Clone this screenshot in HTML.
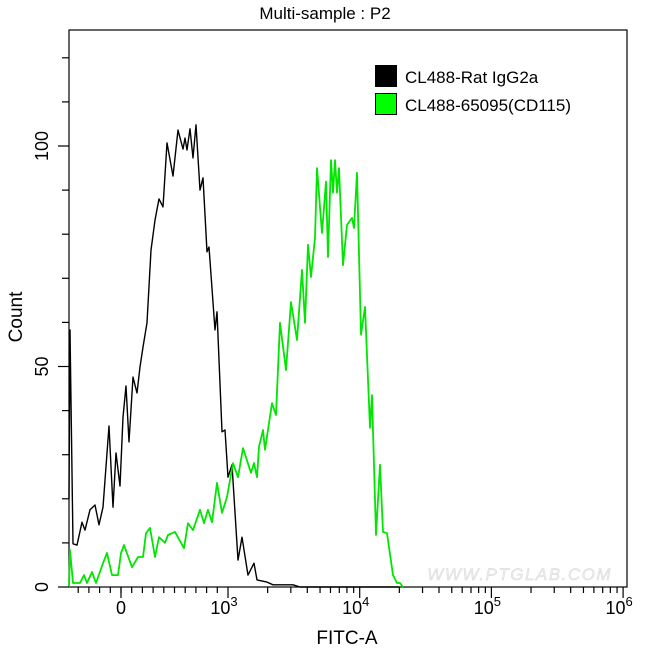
<!DOCTYPE html>
<html><head><meta charset="utf-8"><style>
body{margin:0;background:#fff}
svg{display:block;font-family:"Liberation Sans",Arial,sans-serif}
</style></head><body>
<svg id="chart" width="650" height="652" viewBox="0 0 650 652">
<text x="325" y="19" text-anchor="middle" font-size="17">Multi-sample : P2</text>
<rect x="69" y="30" width="558" height="557" fill="none" stroke="#000" stroke-width="1.2"/>
<text x="612" y="580" text-anchor="end" font-size="17" font-style="italic" letter-spacing="1.5" fill="#ececec" stroke="#d6d6d6" stroke-width="0.4">WWW.PTGLAB.COM</text>
<g id="marks"></g>
<g id="axes"></g>
<text x="347" y="644" text-anchor="middle" font-size="19">FITC-A</text>
<text transform="translate(22,317) rotate(-90)" text-anchor="middle" font-size="19">Count</text>
<g>
<rect x="375" y="65" width="22" height="22" fill="#000"/>
<text x="405" y="83" font-size="17">CL488-Rat IgG2a</text>
<rect x="375.5" y="93.5" width="21" height="21" fill="#00ff00" stroke="#000"/>
<text x="405" y="111" font-size="17">CL488-65095(CD115)</text>
</g>
</svg>
<script>
// channel (display bins, 0..558) vs count
const isoChannels=[0,1,4,8,13,16,21,26,30,34,40,44,47,51,54,57,60,64,68,71,74,78,82,86,90,94,98,104,109,114,116,118,121,124,127,131,134,138,140,146,148,153,156,159,163,169,173,179,185,188,198,204,224,231,330];
const isoCounts=[20,58.3,9.8,9.5,14.7,12.9,17.5,18.6,14.1,18.1,36.5,18.1,30.4,22.9,38.5,45.6,32.9,47.6,44,49.9,54.4,59.9,76.4,83.2,88,86.2,100.7,93.2,103.6,99.3,101.8,99.1,103.9,97.3,104.8,90,92.8,76,77.1,58.3,62.4,35.2,35.6,24.9,27.7,6.1,11.3,2.7,5.4,1.6,1.1,0.5,0.5,0,0];
const cdChannels=[0,1,4,11,15,18,23,27,34,38,43,49,52,55,63,69,74,77,81,86,90,96,99,106,115,119,124,131,135,139,143,148,153,158,164,169,174,182,185,188,190,194,196,203,207,211,217,222,228,233,236,239,242,246,248,253,257,259,262,264,266,268,270,274,278,283,285,288,292,296,301,303,307,311,314,318,324,328,331,334];
const cdCounts=[0,8.4,0.9,0.9,2.7,0.9,3.4,0.9,5.4,7.7,2.7,2.7,7.7,9.5,4.5,6.8,6.8,12.2,13.4,6.8,11.3,10,11.8,12.5,8.8,14.5,12.9,17.5,14.5,17.5,14.7,23.6,16.8,20.4,28.1,24.9,31.5,25.9,28.1,24.9,31.8,35.6,31.1,41.7,39,59.9,49.2,64.6,56,71.9,59.9,77.6,70.3,79.2,95,80.3,91.9,74.8,96.8,89.4,96.8,89.4,95,73,82.1,83.7,81.4,93.9,57.2,63.5,36.1,43.5,11.8,27.7,12.5,12.2,2.7,0.9,0.9,0];
const xTickValues=[0,1000,10000,100000,1000000];
const xTickLabels=["0","10","10","10","10"];
const xTickExp=["","3","4","5","6"];
const yTickValues=[0,50,100];
const yTickLabels=["0","50","100"];
const yMinorValues=[10,20,30,40,60,70,80,90,110,120];

const L=69,T=30,R=627,B=587,YMAX=(B-T)/4.41;
function xCh(c){return L+c;}
function yC(v){return B-v*(B-T)/YMAX;}
function chOf(v){
  if(v<=1000) return 52+v/1000*107;
  return 159+(Math.log10(v)-3)*131.7;
}
const NS="http://www.w3.org/2000/svg";
const marks=document.getElementById('marks'), axes=document.getElementById('axes');
function line(chs,cnts,color,w,name){
  const p=document.createElementNS(NS,'polyline');
  p.setAttribute('points',chs.map((c,i)=>xCh(c).toFixed(1)+','+yC(cnts[i]).toFixed(1)).join(' '));
  p.setAttribute('fill','none');p.setAttribute('stroke',color);p.setAttribute('stroke-width',w);
  p.setAttribute('stroke-linejoin','round');
  
  
  marks.appendChild(p);
}
line(isoChannels,isoCounts,'#000','1.4','isotype-histogram');
line(cdChannels,cdCounts,'#00e600','1.8','cd115-histogram');

function tick(x1,y1,x2,y2,name){
  const t=document.createElementNS(NS,'line');
  t.setAttribute('x1',x1);t.setAttribute('y1',y1);t.setAttribute('x2',x2);t.setAttribute('y2',y2);
  t.setAttribute('stroke','#000');t.setAttribute('stroke-width','1.2');
  
  
  axes.appendChild(t);
}
const minor=[];
for(let v=-400;v<1000;v+=100) minor.push(v);
for(let d=3;d<6;d++) for(let k=2;k<10;k++) minor.push(k*Math.pow(10,d));
minor.forEach(v=>{const x=xCh(chOf(v)); if(x>=L&&x<=R) tick(x,B,x,B+6,'x-minor-tick');});
xTickValues.forEach((v,i)=>{
  const x=xCh(chOf(v));
  tick(x,B,x,B+11,'x-major-tick');
  const t=document.createElementNS(NS,'text');
  t.setAttribute('x',x+(xTickExp[i]?-4:0));t.setAttribute('y',B+27);t.setAttribute('text-anchor','middle');t.setAttribute('font-size','18');
  t.textContent=xTickLabels[i];
  if(xTickExp[i]){const s=document.createElementNS(NS,'tspan');s.setAttribute('dy','-8');s.setAttribute('font-size','13');s.textContent=xTickExp[i];t.appendChild(s);}
  
  
  axes.appendChild(t);
});
yMinorValues.forEach(v=>tick(L-7,yC(v),L,yC(v),'y-minor-tick'));
yTickValues.forEach((v,i)=>{
  const y=yC(v);
  tick(L-11,y,L,y,'y-major-tick');
  const t=document.createElementNS(NS,'text');
  t.setAttribute('transform','translate(48,'+y+') rotate(-90)');t.setAttribute('text-anchor','middle');t.setAttribute('font-size','18');
  t.textContent=yTickLabels[i];
  
  
  axes.appendChild(t);
});
</script>
</body></html>
